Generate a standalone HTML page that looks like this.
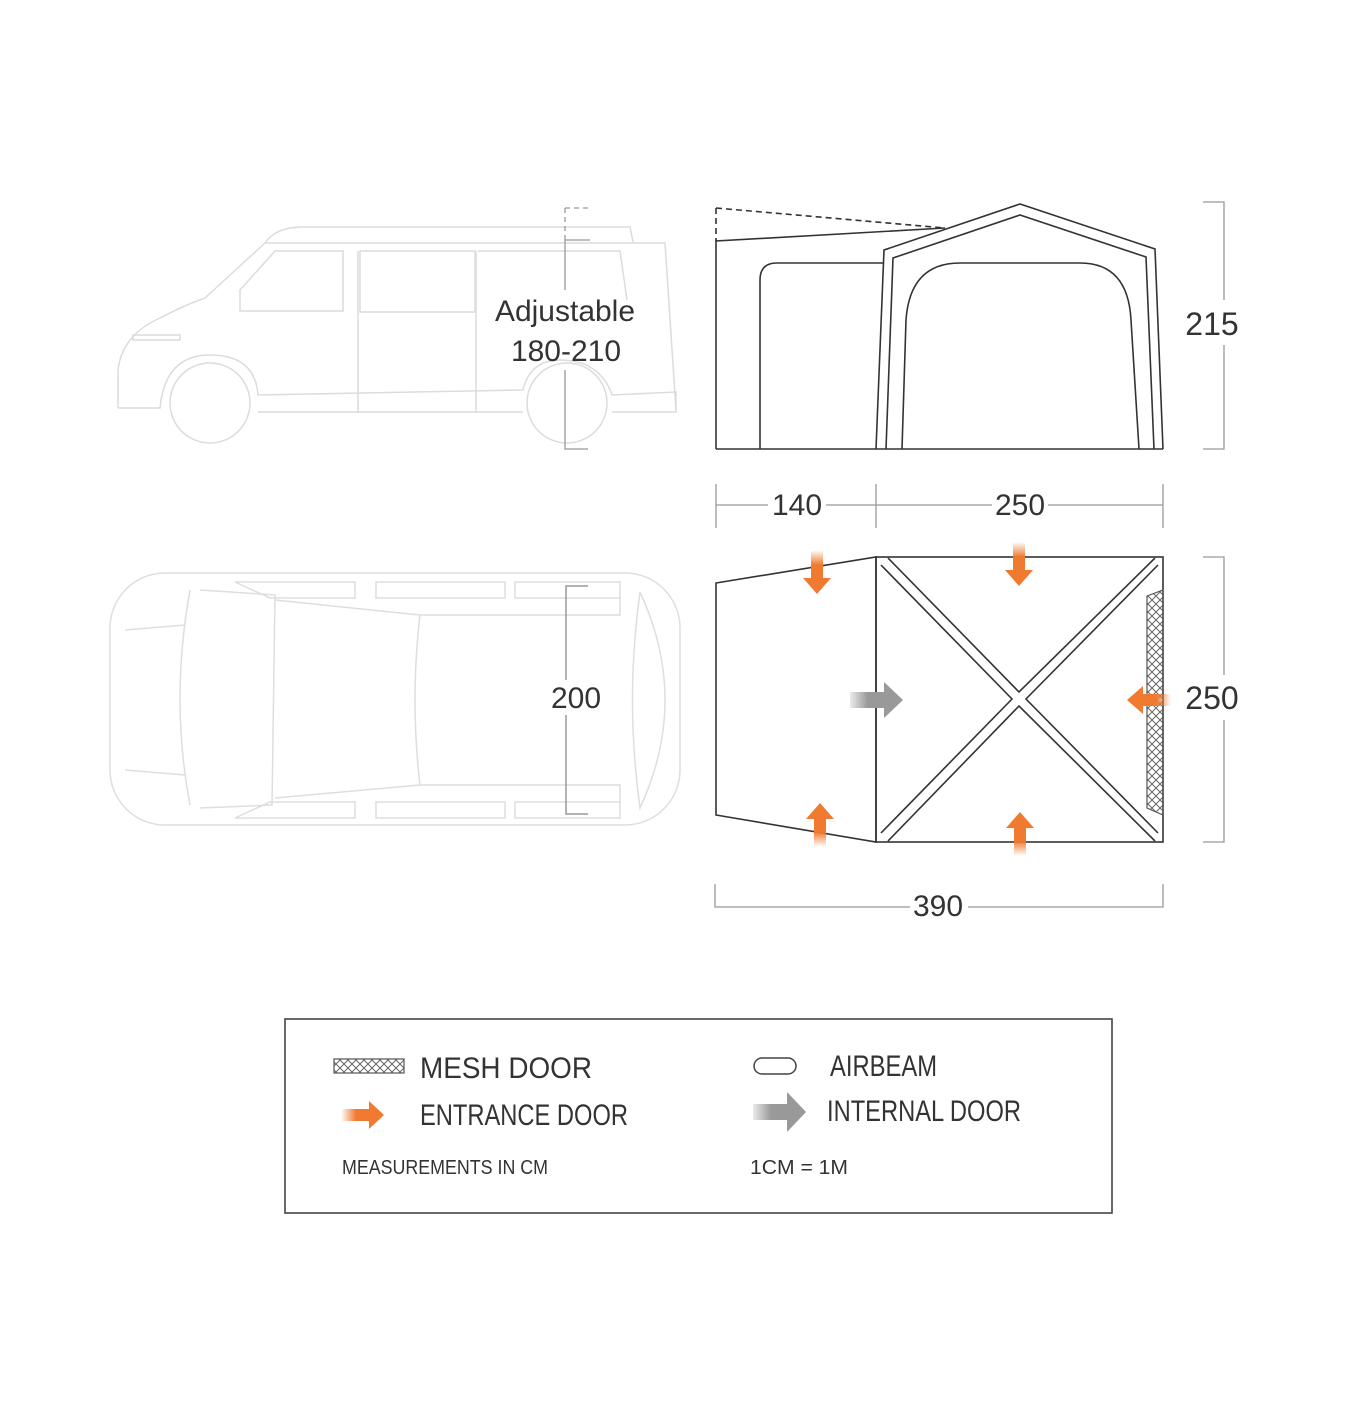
<!DOCTYPE html>
<html><head><meta charset="utf-8"><style>html,body{margin:0;padding:0;background:#fff}svg{display:block}</style></head><body>
<svg width="1368" height="1424" viewBox="0 0 1368 1424" xmlns="http://www.w3.org/2000/svg" font-family="Liberation Sans, sans-serif">
<defs>
<pattern id="mesh" width="8" height="8" patternUnits="userSpaceOnUse"><path d="M0 0L8 8M8 0L0 8" stroke="#666" stroke-width="1"/></pattern>
<linearGradient id="gO" x1="0" x2="1"><stop offset="0" stop-color="#f07a30" stop-opacity="0"/><stop offset="0.5" stop-color="#f07a30"/></linearGradient>
<linearGradient id="gG" x1="0" x2="1"><stop offset="0" stop-color="#999" stop-opacity="0.2"/><stop offset="0.5" stop-color="#999"/></linearGradient>
<g id="oarrow"><rect x="-24" y="-6" width="30" height="12" fill="url(#gO)"/><path d="M4 -14 L20 0 L4 14 Z" fill="#f07a30"/></g>
</defs>

<!-- VAN SIDE -->
<g fill="none" stroke="#dcdcdc" stroke-width="1.5">
<path d="M118 408 L118 370 Q122 335 160 318 Q185 305 205 298 L265 243 Q275 228 300 227 L630 227 L633 242"/>
<path d="M265 243 L665 243 L676 410"/>
<path d="M240 311 L240 290 L275 251 L343 251 L343 311 Z"/>
<path d="M360 312 L360 251 L475 251 L475 312 Z"/>
<path d="M478 251 L620 251 L627 300"/>
<path d="M133 340 L180 340 L180 335 L133 335 Z"/>
<path d="M358 251 L358 413 M476 251 L476 413"/>
<path d="M118 408 L160 408 Q165 355 210 355 Q255 355 258 395 L523 390 Q530 360 560 360 Q600 360 612 395 L676 392 L676 412 L612 412"/>
<path d="M258 412 L523 412"/>
<circle cx="210" cy="403" r="40"/><circle cx="567" cy="403" r="40"/>
</g>
<g stroke="#999" stroke-width="1.3" fill="none">
<path d="M565 240 L565 290 M565 370 L565 449 L588 449"/>
<path d="M565 208 L565 240 M565 208 L590 208" stroke-dasharray="5 4"/>
<path d="M565 240 L590 240"/>
</g>
<text x="565" y="321" font-size="30" fill="#333" text-anchor="middle">Adjustable</text>
<text x="566" y="361" font-size="30" fill="#333" text-anchor="middle">180-210</text>

<!-- VAN TOP -->
<g fill="none" stroke="#dedede" stroke-width="1.5">
<rect x="110" y="573" width="570" height="252" rx="55"/>
<path d="M190 590 Q170 700 190 805"/>
<path d="M200 590 L275 595 L272 805 L200 808"/>
<path d="M275 600 L420 615 L620 615 L620 598 M275 798 L420 785 L620 785 L620 802"/>
<path d="M420 615 Q410 700 420 785"/>
<path d="M235 582 L355 582 L355 598 L270 598 Z M376 582 L505 582 L505 598 L376 598 Z M515 582 L620 582 L620 598 L515 598 Z"/>
<path d="M235 818 L355 818 L355 802 L270 802 Z M376 818 L505 818 L505 802 L376 802 Z M515 818 L620 818 L620 802 L515 802 Z"/>
<path d="M640 592 Q690 700 640 808 Q625 700 640 592"/>
<path d="M125 630 L185 625 M125 770 L185 775"/>
</g>
<g stroke="#999" stroke-width="1.5" fill="none"><path d="M588 586 L566 586 L566 680 M566 715 L566 814 L588 814"/></g>
<text x="576" y="708" font-size="30" fill="#333" text-anchor="middle">200</text>

<!-- TENT SIDE -->
<g fill="none" stroke="#333" stroke-width="1.6">
<path d="M716 208 L716 241 M716 208 L945 228" stroke-dasharray="6 4"/>
<path d="M716 449 L716 241 L945 228"/>
<path d="M716 449 L1163 449"/>
<path d="M876 449 L884 250 L1020 204 L1155 249 L1163 449"/>
<path d="M886 449 L893 258 L1020 215 L1146 257 L1154 449"/>
<path d="M760 449 L760 280 Q760 263 777 263 L884 263"/>
<path d="M902 449 L906 320 Q910 263 960 263 L1080 263 Q1128 263 1131 320 L1139 449"/>
</g>
<g stroke="#999" stroke-width="1.3" fill="none"><path d="M1203 202 L1224 202 L1224 300 M1224 345 L1224 449 L1203 449"/></g>
<text x="1212" y="335" font-size="32" fill="#333" text-anchor="middle">215</text>

<!-- dims row -->
<g stroke="#999" stroke-width="1.3" fill="none">
<path d="M716 484 L716 528 M876 484 L876 528 M1163 484 L1163 528"/>
<path d="M716 505 L768 505 M826 505 L992 505 M1048 505 L1163 505"/>
<path d="M715 884 L715 907 L910 907 M968 907 L1163 907 L1163 884"/>
<path d="M1203 557 L1224 557 L1224 675 M1224 720 L1224 842 L1203 842"/>
</g>
<text x="797" y="515" font-size="30" fill="#333" text-anchor="middle">140</text>
<text x="1020" y="515" font-size="30" fill="#333" text-anchor="middle">250</text>
<text x="938" y="916" font-size="30" fill="#333" text-anchor="middle">390</text>
<text x="1212" y="709" font-size="32" fill="#333" text-anchor="middle">250</text>

<!-- TENT TOP -->
<g fill="none" stroke="#333" stroke-width="1.6">
<path d="M716 583 L876 557 L876 842 L716 815 Z"/>
<rect x="876" y="557" width="287" height="285"/>
<path d="M881 565 L1012 699 L881 833 M888 558 L1019 692 L1155 558 M1158 565 L1026 699 L1158 833 M888 841 L1019 706 L1155 841"/>
</g>
<path d="M1147 596 L1163 590 L1163 815 L1147 808 Z" fill="url(#mesh)" stroke="#555" stroke-width="1.2"/>
<use href="#oarrow" transform="translate(817,574) rotate(90)"/>
<use href="#oarrow" transform="translate(1019,566) rotate(90)"/>
<use href="#oarrow" transform="translate(820,823) rotate(-90)"/>
<use href="#oarrow" transform="translate(1020,832) rotate(-90)"/>
<use href="#oarrow" transform="translate(1147,700) rotate(180)"/>
<g transform="translate(882,700)"><rect x="-32" y="-8" width="36" height="16" fill="url(#gG)"/><path d="M2 -18 L21 0 L2 18 Z" fill="#999"/></g>

<!-- LEGEND -->
<rect x="285" y="1019" width="827" height="194" fill="none" stroke="#444" stroke-width="1.6"/>
<rect x="334" y="1059" width="70" height="14" fill="url(#mesh)" stroke="#555" stroke-width="1.2"/>
<g transform="translate(365,1115)"><rect x="-24" y="-6" width="30" height="12" fill="url(#gO)"/><path d="M4 -14 L19 0 L4 14 Z" fill="#f07a30"/></g>
<rect x="754" y="1058" width="42" height="16" rx="8" fill="none" stroke="#444" stroke-width="1.5"/>
<g transform="translate(785,1112)"><rect x="-32" y="-8" width="36" height="16" fill="url(#gG)"/><path d="M2 -20 L21 0 L2 20 Z" fill="#999"/></g>
<g fill="#333">
<text x="420" y="1078" font-size="30" textLength="172" lengthAdjust="spacingAndGlyphs">MESH DOOR</text>
<text x="420" y="1125" font-size="30" textLength="208" lengthAdjust="spacingAndGlyphs">ENTRANCE DOOR</text>
<text x="830" y="1076" font-size="30" textLength="107" lengthAdjust="spacingAndGlyphs">AIRBEAM</text>
<text x="827" y="1121" font-size="30" textLength="194" lengthAdjust="spacingAndGlyphs">INTERNAL DOOR</text>
<text x="342" y="1174" font-size="20" textLength="206" lengthAdjust="spacingAndGlyphs">MEASUREMENTS IN CM</text>
<text x="750" y="1174" font-size="20" textLength="98" lengthAdjust="spacingAndGlyphs">1CM = 1M</text>
</g>
</svg>
</body></html>
